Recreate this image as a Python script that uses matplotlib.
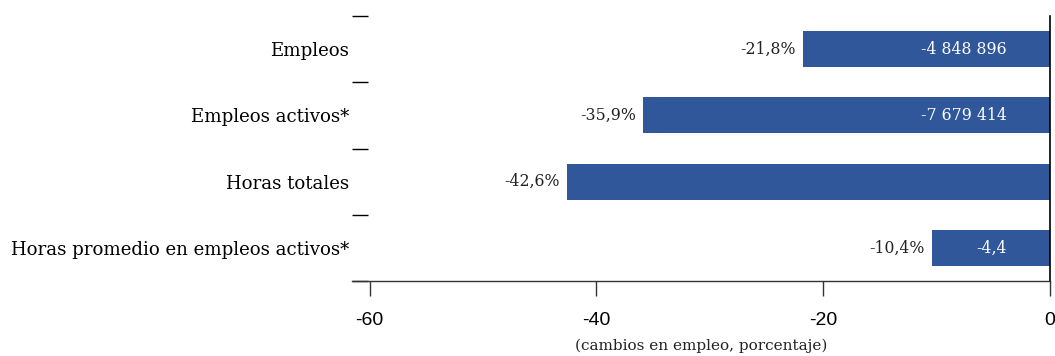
import matplotlib
matplotlib.use("Agg")
import matplotlib.pyplot as plt
import numpy as np

categories = ["Empleos", "Empleos activos*", "Horas totales", "Horas promedio en empleos activos*"]
pct_values = [-21.8, -35.9, -42.6, -10.4]
inner_labels = ["-4 848 896", "-7 679 414", "", "-4,4"]
xticks = [-60, -40, -20, 0]
xlabel = "(cambios en empleo, porcentaje)"

bar_color = "#30579A"
serif = ["DejaVu Serif"]
narrow = ["Liberation Sans Narrow", "Liberation Sans", "DejaVu Sans"]

fig = plt.figure(figsize=(10.55, 3.56), dpi=100)
ax = fig.add_axes([352/1055, 1-281/356, (1050-352)/1055, (281-16)/356])

y = np.arange(len(categories))
bars = ax.barh(y, pct_values, height=0.54, color=bar_color, zorder=2)

ax.set_xlim(-61.55, 0)
ax.set_ylim(len(categories)-0.5, -0.5)

for yi, v, lab in zip(y, pct_values, inner_labels):
    ax.annotate(f"{v:.1f}%".replace(".", ","), xy=(v, yi), xytext=(-5, 0),
                textcoords="offset points", ha="right", va="center",
                fontsize=11.3, family=serif, color="#222222")
    if lab:
        ax.annotate(lab, xy=(0, yi), xytext=(-31, 0), textcoords="offset points",
                    ha="right", va="center", fontsize=11.3, family=serif, color="white")

ax.set_yticks(y)
ax.set_yticklabels(categories, family=serif, fontsize=13.1)
ax.tick_params(axis="y", which="major", length=0, pad=2)
ax.set_yticks(np.arange(-0.5, len(categories)), minor=True)
ax.tick_params(axis="y", which="minor", direction="in", length=11.5, width=1, color="black")

ax.set_xticks(xticks)
ax.set_xticklabels([str(t) for t in xticks], family=narrow, fontsize=14)
ax.tick_params(axis="x", direction="out", length=11, width=1, color="#333333", pad=11)
ax.set_xlabel(xlabel, family=serif, fontsize=11, labelpad=7, color="#222222")

for s in ["top", "left"]:
    ax.spines[s].set_visible(False)
ax.spines["right"].set_color("black")
ax.spines["right"].set_linewidth(1.2)
ax.spines["bottom"].set_color("#333333")
ax.spines["bottom"].set_linewidth(1)

fig.savefig("out.png", dpi=100)
